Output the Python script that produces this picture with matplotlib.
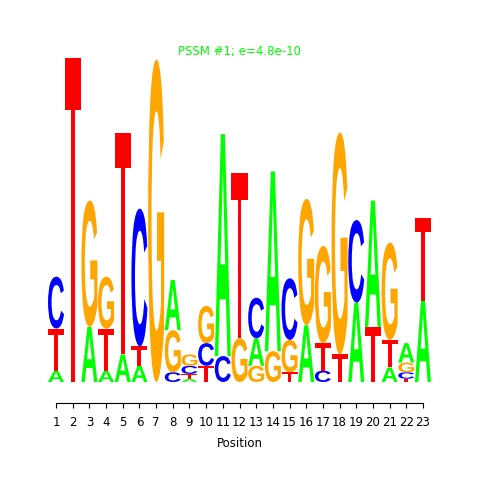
import matplotlib
matplotlib.use("Agg")
import matplotlib.pyplot as plt
from matplotlib.textpath import TextPath
from matplotlib.patches import PathPatch
from matplotlib.font_manager import FontProperties
from matplotlib.transforms import Affine2D

# information content (bits) per letter at each position
positions = list(range(1, 24))
bits_A = [0.07, 0, 0.34, 0.07, 0.17, 0.10, 0, 0.31, 0.02, 0, 1.37, 0, 0.17, 1.11, 0, 0.35, 0, 0, 0.49, 0.78, 0.09, 0.12, 0.50]
bits_C = [0.32, 0, 0, 0, 0, 0.85, 0, 0.06, 0.05, 0.14, 0.16, 0, 0.25, 0, 0.38, 0, 0.07, 0, 0.51, 0, 0, 0.04, 0]
bits_G = [0, 0, 0.78, 0.32, 0, 0, 1.99, 0.26, 0.07, 0.23, 0, 0.27, 0.10, 0.19, 0.20, 0.78, 0.60, 1.37, 0, 0, 0.60, 0.06, 0]
bits_T = [0.26, 2.0, 0, 0.26, 1.37, 0.12, 0, 0, 0.03, 0.10, 0, 1.02, 0, 0, 0.06, 0, 0.17, 0.17, 0, 0.34, 0.17, 0.02, 0.51]

title = "PSSM #1; e=4.8e-10"
colors = {"A": "#00ff00", "C": "#0000ff", "G": "#ffa500", "T": "#ff0000"}

font = FontProperties(family="Liberation Sans", weight="bold")
glyphs = {}
for let in "ACGT":
    p = TextPath((0, 0), let, size=1, prop=font)
    glyphs[let] = (p, p.get_extents())


def draw_letter(ax, let, x, y0, h, w=0.96):
    p, bb = glyphs[let]
    tr = (Affine2D().translate(-bb.x0, -bb.y0)
          .scale(w / bb.width, h / bb.height)
          .translate(x - w / 2, y0))
    ax.add_patch(PathPatch(tr.transform_path(p), fc=colors[let], ec="none"))


fig = plt.figure(figsize=(4.8, 4.8), dpi=100)
ax = fig.add_axes([47.7 / 480, 98 / 480, 383.6 / 480, 324 / 480])

for i, pos in enumerate(positions):
    stack = [("A", bits_A[i]), ("C", bits_C[i]), ("G", bits_G[i]), ("T", bits_T[i])]
    stack = sorted([s for s in stack if s[1] > 0], key=lambda s: s[1])
    y = 0
    for let, h in stack:
        draw_letter(ax, let, pos, y, h)
        y += h

ax.set_xlim(0.5, 23.5)
ax.set_ylim(0, 2.0)
for s in ["top", "right", "left"]:
    ax.spines[s].set_visible(False)
ax.spines["bottom"].set_position(("outward", 15))
ax.spines["bottom"].set_bounds(1, 23)
ax.spines["bottom"].set_linewidth(0.8)
ax.set_yticks([])
ax.set_xticks(positions)
ax.tick_params(axis="x", length=3.5, width=0.8, labelsize=8.5, pad=6)
ax.set_xlabel("Position", fontsize=8.5, labelpad=6)

fig.text(0.5, 1 - 52 / 480, title, color="#00ff00", fontsize=8.5,
         ha="center", va="center")

fig.savefig("out.png", dpi=100)
